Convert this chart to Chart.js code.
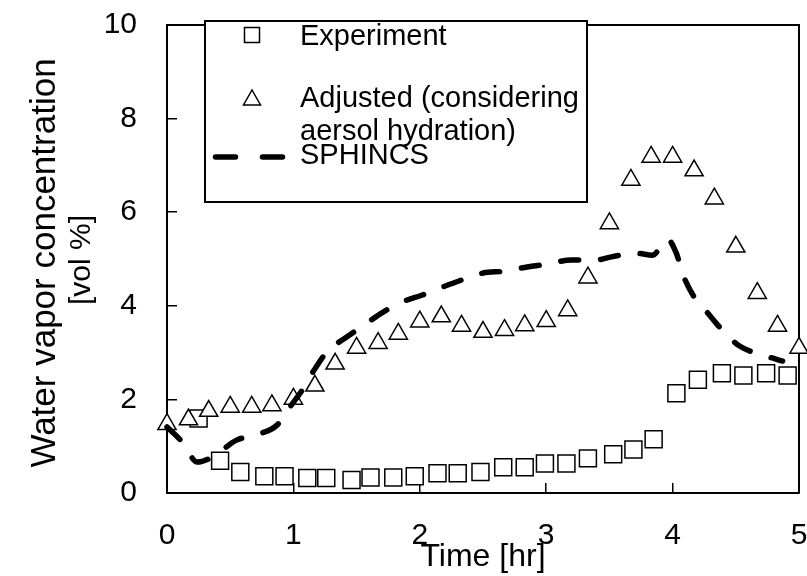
<!DOCTYPE html>
<html>
<head>
<meta charset="utf-8">
<script src="https://cdn.jsdelivr.net/npm/chart.js@4.4.1/dist/chart.umd.min.js"></script>
<style>
  html, body { margin: 0; padding: 0; background: #ffffff; }
  #wrap { width: 807px; height: 576px; }
</style>
</head>
<body>
<div id="wrap"><canvas id="c" width="807" height="576"></canvas></div>
<script>
// ---- data ----
const expTime  = [0.25, 0.42, 0.58, 0.77, 0.93, 1.11, 1.26, 1.46, 1.61, 1.79, 1.96, 2.14, 2.30, 2.48,
                  2.66, 2.83, 2.99, 3.16, 3.33, 3.53, 3.69, 3.85, 4.03, 4.20, 4.39, 4.56, 4.74, 4.91];
const expValue = [1.59, 0.69, 0.45, 0.36, 0.36, 0.32, 0.32, 0.28, 0.33, 0.33, 0.36, 0.42, 0.42, 0.45,
                  0.55, 0.55, 0.63, 0.63, 0.74, 0.83, 0.93, 1.15, 2.13, 2.42, 2.56, 2.51, 2.56, 2.51];

const adjTime  = [0, 0.17, 0.33, 0.5, 0.67, 0.83, 1.0, 1.17, 1.33, 1.5, 1.67, 1.83, 2.0, 2.17, 2.33, 2.5,
                  2.67, 2.83, 3.0, 3.17, 3.33, 3.5, 3.67, 3.83, 4.0, 4.17, 4.33, 4.5, 4.67, 4.83, 5.0];
const adjValue = [1.47, 1.57, 1.75, 1.84, 1.84, 1.87, 2.01, 2.29, 2.76, 3.10, 3.20, 3.40, 3.66, 3.77, 3.57, 3.44,
                  3.48, 3.58, 3.67, 3.90, 4.60, 5.76, 6.69, 7.18, 7.18, 6.89, 6.29, 5.26, 4.27, 3.57, 3.10];

const sphTime  = [0, 0.12, 0.24, 0.36, 0.55, 0.70, 0.87, 0.96, 1.08, 1.16, 1.27, 1.41, 1.57, 1.70, 1.86, 2.02,
                  2.18, 2.33, 2.50, 2.67, 2.85, 3.01, 3.20, 3.39, 3.54, 3.72, 3.84, 3.96, 4.03, 4.08, 4.17,
                  4.27, 4.40, 4.53, 4.71, 4.87];
const sphValue = [1.41, 1.09, 0.66, 0.77, 1.13, 1.24, 1.45, 1.79, 2.24, 2.61, 3.03, 3.31, 3.61, 3.85, 4.08, 4.23,
                  4.40, 4.55, 4.70, 4.74, 4.83, 4.89, 4.98, 4.98, 5.06, 5.12, 5.08, 5.42, 5.12, 4.68, 4.19,
                  3.87, 3.46, 3.14, 2.95, 2.82];

const seriesNames = ['Experiment', 'Adjusted (considering aersol hydration)', 'SPHINCS'];
const legendLines = [['Experiment'], ['Adjusted (considering', 'aersol hydration)'], ['SPHINCS']];
const xTitle = 'Time [hr]';
const yTitle = ['Water vapor concentration', '[vol %]'];

const pts = (xs, ys) => xs.map((x, i) => ({ x: x, y: ys[i] }));

const FONT = '"Liberation Sans", Arial, sans-serif';

// frame (top and right sides)
const framePlugin = {
  id: 'frame',
  beforeDatasetsDraw(chart) {
    const { ctx, chartArea: a } = chart;
    ctx.save();
    ctx.strokeStyle = '#000';
    ctx.lineWidth = 2;
    ctx.beginPath();
    ctx.moveTo(a.left, a.top);
    ctx.lineTo(a.right, a.top);
    ctx.lineTo(a.right, a.bottom);
    ctx.stroke();
    ctx.restore();
  }
};

// two-line rotated y-axis title (lines drawn at different sizes, as in the reference)
const yTitlePlugin = {
  id: 'yTitle',
  afterDraw(chart) {
    const { ctx, chartArea: a } = chart;
    const cy = (a.top + a.bottom) / 2;
    ctx.save();
    ctx.fillStyle = '#000';
    ctx.textAlign = 'center';
    ctx.textBaseline = 'alphabetic';
    ctx.save();
    ctx.translate(55, cy + 4);
    ctx.rotate(-Math.PI / 2);
    ctx.font = '35px ' + FONT;
    ctx.fillText(yTitle[0], 0, 0);
    ctx.restore();
    ctx.save();
    ctx.translate(90, cy + 1);
    ctx.rotate(-Math.PI / 2);
    ctx.font = '30px ' + FONT;
    ctx.fillText(yTitle[1], 0, 0);
    ctx.restore();
    ctx.restore();
  }
};

// boxed legend like the reference
const legendBoxPlugin = {
  id: 'legendBox',
  afterDraw(chart) {
    const ctx = chart.ctx;
    ctx.save();
    ctx.fillStyle = '#fff';
    ctx.fillRect(205, 21, 382, 181);
    ctx.strokeStyle = '#000';
    ctx.lineWidth = 2;
    ctx.strokeRect(205, 21, 382, 181);

    // square marker
    ctx.lineWidth = 1.5;
    ctx.fillStyle = '#fff';
    ctx.beginPath();
    ctx.rect(244.5, 27.5, 15, 15);
    ctx.fill(); ctx.stroke();

    // triangle marker
    ctx.beginPath();
    ctx.moveTo(252, 90);
    ctx.lineTo(260.5, 105);
    ctx.lineTo(243.5, 105);
    ctx.closePath();
    ctx.fill(); ctx.stroke();

    // dashed line sample
    ctx.lineWidth = 5.5;
    ctx.lineCap = 'round';
    ctx.beginPath();
    ctx.moveTo(215.5, 157); ctx.lineTo(235.5, 157);
    ctx.moveTo(262.5, 157); ctx.lineTo(282.5, 157);
    ctx.stroke();

    ctx.fillStyle = '#000';
    ctx.font = '29px ' + FONT;
    ctx.textBaseline = 'alphabetic';
    ctx.textAlign = 'left';
    ctx.fillText(legendLines[0][0], 300, 45);
    ctx.fillText(legendLines[1][0], 300, 107);
    ctx.fillText(legendLines[1][1], 300, 140);
    ctx.fillText(legendLines[2][0], 300, 164);
    ctx.restore();
  }
};

new Chart(document.getElementById('c'), {
  type: 'scatter',
  data: {
    datasets: [
      {
        label: seriesNames[0],
        data: pts(expTime, expValue),
        pointStyle: 'rect',
        pointRadius: 12,
        pointHoverRadius: 12,
        borderColor: '#000',
        backgroundColor: '#fff',
        borderWidth: 1.5,
        showLine: false,
        clip: false,
        order: 3
      },
      {
        label: seriesNames[1],
        data: pts(adjTime, adjValue),
        pointStyle: 'triangle',
        pointRadius: 10.5,
        pointHoverRadius: 10.5,
        borderColor: '#000',
        backgroundColor: '#fff',
        borderWidth: 1.5,
        showLine: false,
        clip: false,
        order: 2
      },
      {
        label: seriesNames[2],
        type: 'line',
        data: pts(sphTime, sphValue),
        borderColor: '#000',
        backgroundColor: '#000',
        borderWidth: 5.5,
        borderDash: [18, 22],
        borderCapStyle: 'round',
        borderJoinStyle: 'round',
        cubicInterpolationMode: 'monotone',
        pointRadius: 0,
        fill: false,
        showLine: true,
        clip: false,
        order: 1
      }
    ]
  },
  options: {
    responsive: false,
    devicePixelRatio: 1,
    animation: false,
    layout: { autoPadding: false, padding: { top: 25, right: 8, left: 0, bottom: 0 } },
    plugins: {
      legend: { display: false },
      tooltip: { enabled: false }
    },
    scales: {
      x: {
        type: 'linear',
        min: 0, max: 5,
        ticks: { stepSize: 1, color: '#000', padding: 35, font: { family: FONT, size: 30 } },
        grid: { drawOnChartArea: false, drawTicks: true, tickLength: -10, color: '#000', lineWidth: 1.5 },
        border: { display: true, color: '#000', width: 2 },
        title: { display: true, text: xTitle, color: '#000', padding: { top: 0, bottom: 0 },
                 font: { family: FONT, size: 32, lineHeight: 1.2 } },
        afterFit(scale) {
          scale.height = 83;
          scale.paddingLeft = 0; scale.paddingRight = 0;
        }
      },
      y: {
        type: 'linear',
        min: 0, max: 10,
        ticks: { stepSize: 2, color: '#000', padding: 40, font: { family: FONT, size: 30 } },
        grid: { drawOnChartArea: false, drawTicks: true, tickLength: -10, color: '#000', lineWidth: 1.5 },
        border: { display: true, color: '#000', width: 2 },
        title: { display: false, text: yTitle },
        afterFit(scale) {
          scale.width = 167;
          scale.paddingTop = 0; scale.paddingBottom = 0;
        }
      }
    }
  },
  plugins: [framePlugin, yTitlePlugin, legendBoxPlugin]
});
</script>
</body>
</html>
